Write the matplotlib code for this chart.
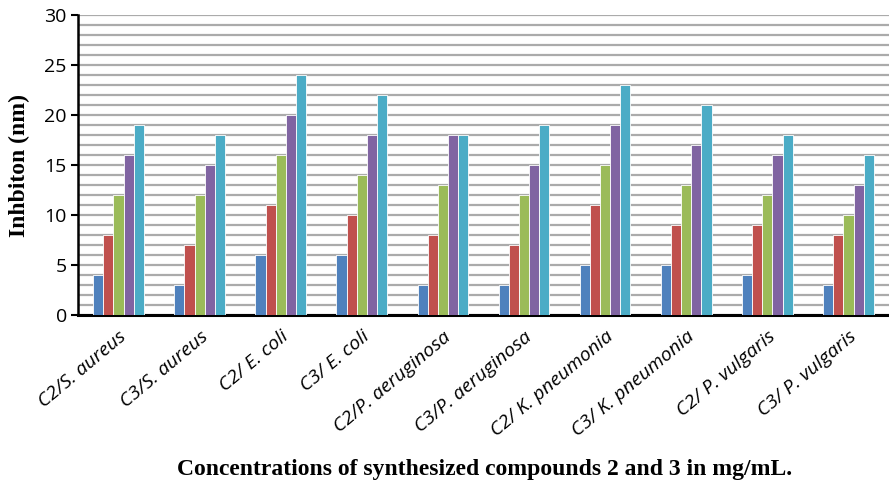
import matplotlib.pyplot as plt
import numpy as np

# inhibition zones per strain, five concentrations each
groups = ["C2/S. aureus", "C3/S. aureus", "C2/ E. coli", "C3/ E. coli",
          "C2/P. aeruginosa", "C3/P. aeruginosa", "C2/ K. pneumonia",
          "C3/ K. pneumonia", "C2/ P. vulgaris", "C3/ P. vulgaris"]
conc1 = [4, 3, 6, 6, 3, 3, 5, 5, 4, 3]
conc2 = [8, 7, 11, 10, 8, 7, 11, 9, 9, 8]
conc3 = [12, 12, 16, 14, 13, 12, 15, 13, 12, 10]
conc4 = [16, 15, 20, 18, 18, 15, 19, 17, 16, 13]
conc5 = [19, 18, 24, 22, 18, 19, 23, 21, 18, 16]
series = [conc1, conc2, conc3, conc4, conc5]
colors = ["#4F81BD", "#C0504D", "#9BBB59", "#8064A2", "#4BACC6"]

fig = plt.figure(figsize=(8.89, 4.87), dpi=100)
ax = fig.add_axes([0.0877, 0.353, 0.9123, 0.616])

x = np.arange(len(groups))
w = 0.125
for i, (vals, c) in enumerate(zip(series, colors)):
    ax.bar(x + (i - 2) * w, vals, w, color=c, edgecolor="white",
           linewidth=0.6, zorder=3)

ax.set_xlim(-0.5, len(groups) - 0.5)
ax.set_ylim(0, 30)
ax.set_yticks(range(0, 31, 5))
ax.set_yticks(range(0, 31), minor=True)
ax.tick_params(axis="y", which="minor", length=0)
ax.tick_params(axis="y", which="major", length=5, width=1.5,
               labelsize=14, pad=3)
ax.grid(axis="y", which="both", color="#ababab", linewidth=1.6, zorder=0)

ax.set_xticks(x)
ax.set_xticklabels(groups, rotation=40, ha="right", rotation_mode="anchor",
                   fontsize=14, fontstyle="italic", family="Open Sans")
ax.tick_params(axis="x", length=0, pad=9)
for lab in ax.get_yticklabels():
    lab.set_family("Open Sans")

for s in ["top", "right"]:
    ax.spines[s].set_visible(False)
ax.spines["left"].set_linewidth(1.8)
ax.spines["bottom"].set_linewidth(2.2)

ax.set_ylabel("Inhbiton (nm)", family="Liberation Serif", fontweight="bold",
              fontsize=17, labelpad=10)
fig.text(0.545, 0.035, "Concentrations of synthesized compounds 2 and 3 in mg/mL.",
         family="Liberation Serif", fontweight="bold", fontsize=17,
         ha="center", va="center")

fig.savefig("out.png", dpi=100)
